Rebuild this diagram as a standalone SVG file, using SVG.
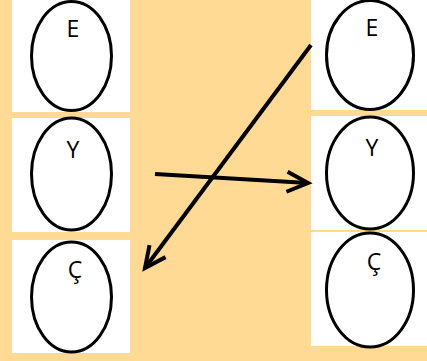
<svg xmlns="http://www.w3.org/2000/svg" width="427" height="361" viewBox="0 0 427 361">
<style>
.cell{fill:#ffffff;}
.node ellipse{fill:#ffffff;stroke:#000000;stroke-width:3;}
.node text{font-family:"Open Sans","Liberation Sans",sans-serif;font-size:23px;fill:#000000;text-anchor:middle;}
.conn line{stroke:#000000;stroke-width:4;}
</style>
<defs>
<marker id="chev" markerUnits="userSpaceOnUse" viewBox="-28 -16 32 32" markerWidth="32" markerHeight="32" refX="0" refY="0" orient="auto" overflow="visible">
<path d="M -21 -10 L 0 0 L -21 10" fill="none" stroke="#000000" stroke-width="4" stroke-linejoin="miter"/>
</marker>
</defs>
<rect x="0" y="0" width="427" height="361" fill="#FFDA94"/>
<rect class="cell" x="12" y="0" width="118" height="112"/>
<rect class="cell" x="12" y="118" width="118" height="114"/>
<rect class="cell" x="12" y="240" width="118" height="113"/>
<rect class="cell" x="311" y="0" width="116" height="110"/>
<rect class="cell" x="311" y="116" width="116" height="114"/>
<rect class="cell" x="311" y="232" width="116" height="114"/>
<g id="left-E" class="node"><ellipse cx="71.5" cy="56" rx="40" ry="54.5"/><text x="73" y="37">E</text></g>
<g id="left-Y" class="node"><ellipse cx="71.5" cy="174" rx="40" ry="56"/><text x="73" y="158">Y</text></g>
<g id="left-C" class="node"><ellipse cx="71.5" cy="297" rx="40" ry="55"/><text x="75" y="278">Ç</text></g>
<g id="right-E" class="node"><ellipse cx="370" cy="55" rx="43.5" ry="54.5"/><text x="372" y="36">E</text></g>
<g id="right-Y" class="node"><ellipse cx="370" cy="173" rx="43.5" ry="56"/><text x="372" y="156">Y</text></g>
<g id="right-C" class="node"><ellipse cx="370" cy="290" rx="43.5" ry="57"/><text x="374" y="270">Ç</text></g>
<g id="connectors" class="conn">
<line x1="311" y1="45" x2="145" y2="268" marker-end="url(#chev)"/>
<line x1="155" y1="174" x2="308" y2="183" marker-end="url(#chev)"/>
</g>
</svg>
